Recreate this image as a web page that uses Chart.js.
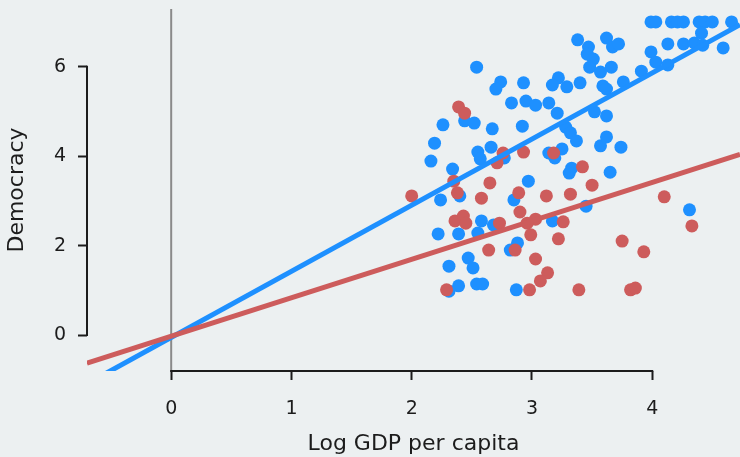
<!DOCTYPE html>
<html>
<head>
<meta charset="utf-8">
<script src="https://cdn.jsdelivr.net/npm/chart.js@4"></script>
<style>
  html, body { margin: 0; padding: 0; background: #ECF0F1; }
  #wrap { width: 740px; height: 457px; }
</style>
</head>
<body>
<div id="wrap"><canvas id="chart" width="740" height="457"></canvas></div>
<script>
// axis ranges and ticks
const xRange = [-0.7, 4.73];
const yRange = [-0.805, 7.29];
const xTicks = [0, 1, 2, 3, 4];
const yTicks = [0, 2, 4, 6];

// log GDP per capita / democracy, blue group
const blueX = [3.99, 4.03, 4.16, 4.21, 4.26, 4.39, 4.44, 4.50, 4.66, 4.41, 4.13, 4.26, 4.35, 4.42, 4.59,
  3.99, 4.03, 4.13, 3.91, 3.76, 3.38, 3.62, 3.47, 3.67, 3.72, 3.46, 3.51, 3.48, 3.57, 3.66, 3.59, 3.62,
  3.22, 3.17, 3.29, 3.40, 2.93, 2.54, 2.74, 2.70, 2.83, 2.95, 3.03, 3.14, 3.21, 3.52, 3.62,
  2.92, 3.28, 3.32, 3.37, 3.57, 3.62, 3.74, 3.25, 3.14, 3.19, 3.33, 3.31, 3.65, 2.97,
  2.26, 2.44, 2.52, 2.67, 2.19, 2.16, 2.34, 2.55, 2.57, 2.66, 2.77, 2.40, 2.24, 2.85, 3.45, 4.31,
  2.58, 2.68, 3.17, 2.22, 2.39, 2.55, 2.88, 2.82, 2.31, 2.47, 2.51, 2.39, 2.31, 2.54, 2.59, 2.87];
const blueY = [7.00, 7.00, 7.00, 7.00, 7.00, 7.00, 7.00, 7.00, 7.00, 6.75, 6.51, 6.51, 6.53, 6.48, 6.42,
  6.33, 6.10, 6.04, 5.90, 5.66, 6.60, 6.64, 6.44, 6.44, 6.51, 6.28, 6.17, 5.99, 5.88, 5.99, 5.57, 5.50,
  5.75, 5.59, 5.55, 5.64, 5.64, 5.99, 5.66, 5.50, 5.19, 5.23, 5.14, 5.19, 4.96, 4.99, 4.90,
  4.67, 4.65, 4.52, 4.34, 4.23, 4.43, 4.20, 4.16, 4.07, 3.96, 3.73, 3.62, 3.64, 3.44,
  4.70, 4.79, 4.74, 4.61, 4.29, 3.89, 3.71, 4.09, 3.94, 4.20, 3.96, 3.11, 3.02, 3.02, 2.88, 2.80,
  2.55, 2.46, 2.55, 2.26, 2.26, 2.28, 2.06, 1.90, 1.54, 1.72, 1.50, 1.10, 0.98, 1.14, 1.14, 1.01];

// red group
const redX = [2.00, 2.39, 2.44, 2.76, 2.71, 2.93, 3.18, 3.42, 3.50, 2.65, 2.35, 2.38, 2.58, 2.89, 3.12,
  3.32, 4.10, 2.36, 2.43, 2.45, 2.73, 2.64, 2.86, 2.90, 3.03, 2.96, 3.26, 2.99, 3.22, 3.75, 3.93,
  4.33, 3.03, 3.13, 3.07, 2.98, 3.39, 3.82, 3.86, 2.29];
const redY = [3.11, 5.10, 4.96, 4.07, 3.85, 4.09, 4.07, 3.76, 3.35, 3.40, 3.44, 3.18, 3.06, 3.18, 3.11,
  3.15, 3.09, 2.55, 2.66, 2.50, 2.50, 1.90, 1.90, 2.75, 2.59, 2.50, 2.53, 2.24, 2.15, 2.10, 1.86,
  2.44, 1.70, 1.39, 1.21, 1.01, 1.01, 1.01, 1.05, 1.01];

// fitted lines, read at the edges of the plot
const fitX = [-0.7, 4.73];
const blueFitY = [-1.09, 6.94];
const redFitY = [-0.63, 4.04];
const refLineX = 0;

const BLUE = '#1E90FF';
const RED = '#CD5C5C';
const INK = '#1c1c1c';
const FONT = 'DejaVu Sans';

const pts = (xs, ys) => xs.map((x, i) => ({ x: x, y: ys[i] }));

const noPad = (s) => { s.paddingTop = 0; s.paddingBottom = 0; s.paddingLeft = 0; s.paddingRight = 0; };

const spines = {
  id: 'spines',
  afterDraw(chart) {
    const { ctx, chartArea, scales } = chart;
    ctx.save();
    ctx.strokeStyle = INK;
    ctx.lineWidth = 2;
    ctx.beginPath();
    ctx.moveTo(scales.x.getPixelForValue(xTicks[0]) - 1, chartArea.bottom);
    ctx.lineTo(scales.x.getPixelForValue(xTicks[xTicks.length - 1]) + 1, chartArea.bottom);
    ctx.moveTo(chartArea.left, scales.y.getPixelForValue(yTicks[0]) + 1);
    ctx.lineTo(chartArea.left, scales.y.getPixelForValue(yTicks[yTicks.length - 1]) - 1);
    ctx.stroke();
    ctx.restore();
  }
};

new Chart(document.getElementById('chart'), {
  type: 'scatter',
  data: {
    datasets: [
      { data: pts(fitX, redFitY), showLine: true, borderColor: RED, borderWidth: 5, pointRadius: 0, order: 0 },
      { data: pts(fitX, blueFitY), showLine: true, borderColor: BLUE, borderWidth: 5, pointRadius: 0, order: 1 },
      { data: pts(redX, redY), backgroundColor: RED, borderWidth: 0, pointRadius: 6.5, order: 2 },
      { data: pts(blueX, blueY), backgroundColor: BLUE, borderWidth: 0, pointRadius: 6.5, order: 3 },
      { data: [{ x: refLineX, y: yRange[0] }, { x: refLineX, y: yRange[1] }], showLine: true,
        borderColor: '#8a8a8a', borderWidth: 2, pointRadius: 0, order: 4 }
    ]
  },
  options: {
    responsive: false,
    animation: false,
    layout: { autoPadding: false, padding: { top: 9, right: 0, left: 0, bottom: 0 } },
    plugins: { legend: { display: false }, tooltip: { enabled: false } },
    scales: {
      x: {
        type: 'linear', min: xRange[0], max: xRange[1],
        afterBuildTicks: (s) => { s.ticks = xTicks.map(v => ({ value: v })); },
        afterFit: (s) => { s.height = 86; noPad(s); },
        border: { display: false },
        grid: { drawOnChartArea: false, drawTicks: true, tickLength: 9, tickWidth: 2, tickColor: INK },
        ticks: { color: INK, padding: 18, font: { family: FONT, size: 19 }, maxRotation: 0 },
        title: { display: true, text: 'Log GDP per capita', color: INK, font: { family: FONT, size: 22 }, padding: { top: 0, bottom: 0 } }
      },
      y: {
        type: 'linear', min: yRange[0], max: yRange[1],
        afterBuildTicks: (s) => { s.ticks = yTicks.map(v => ({ value: v })); },
        afterFit: (s) => { s.width = 87; noPad(s); },
        border: { display: false },
        grid: { drawOnChartArea: false, drawTicks: true, tickLength: 9, tickWidth: 2, tickColor: INK },
        ticks: { color: INK, padding: 12, font: { family: FONT, size: 19 } },
        title: { display: true, text: 'Democracy', color: INK, font: { family: FONT, size: 22 }, padding: { top: 4, bottom: 0 } }
      }
    }
  },
  plugins: [spines]
});
</script>
</body>
</html>
